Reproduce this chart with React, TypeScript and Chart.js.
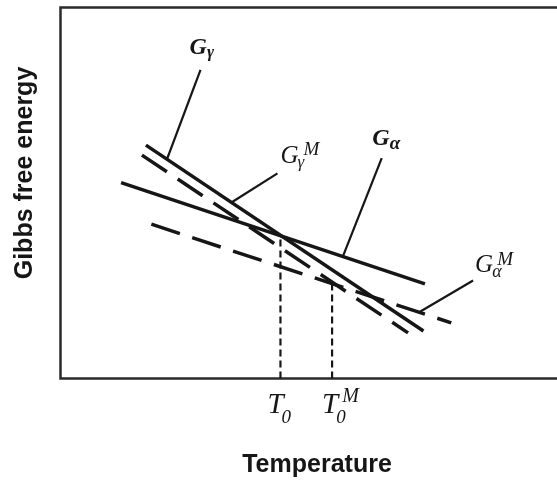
import React, { useEffect, useRef } from "react";
import { Chart, registerables } from "chart.js";

Chart.register(...registerables);

// axis ranges (arbitrary units)
const X_MIN = 0;
const X_MAX = 100;
const Y_MIN = 0;
const Y_MAX = 100;

// Gibbs free energy curves: temperature (x) and energy (y) endpoints
const gammaT = [17.2, 73.1];
const gammaG = [62.9, 12.8];
const gammaMT = [16.4, 70.0];
const gammaMG = [60.2, 12.3];
const alphaT = [12.2, 73.4];
const alphaG = [52.8, 25.5];
const alphaMT = [18.3, 78.7];
const alphaMG = [41.6, 15.0];

// equilibrium temperatures and the energies where the curves cross
const T0 = 44.3;
const T0_G = 38.5;
const T0M = 54.7;
const T0M_G = 25.8;

// leader lines from labels to curves
const leaderGammaT = [28.2, 21.5];
const leaderGammaG = [83.2, 59.3];
const leaderGammaMT = [43.7, 34.5];
const leaderGammaMG = [55.3, 47.5];
const leaderAlphaT = [64.7, 56.9];
const leaderAlphaG = [59.4, 33.0];
const leaderAlphaMT = [83.1, 72.4];
const leaderAlphaMG = [26.4, 18.0];

// label anchors [x, y]
const labelGammaPos = [26.0, 87.6];
const labelGammaMPos = [44.3, 58.1];
const labelAlphaPos = [62.8, 62.9];
const labelAlphaMPos = [83.5, 28.7];

const X_TITLE = "Temperature";
const Y_TITLE = "Gibbs free energy";

const INK = "#161616";
const SERIF = '"Liberation Serif", "DejaVu Serif", serif';
const SANS = '"Liberation Sans", Arial, sans-serif';

const pts = (xs: number[], ys: number[]) => xs.map((x, i) => ({ x, y: ys[i] }));

function composite(
  ctx: CanvasRenderingContext2D,
  x: number,
  y: number,
  main: string,
  mainFont: string,
  sub?: { t: string; font: string; dx: number; dy: number },
  sup?: { t: string; font: string; dx: number; dy: number }
) {
  ctx.textAlign = "left";
  ctx.textBaseline = "alphabetic";
  ctx.font = mainFont;
  ctx.fillText(main, x, y);
  const w = ctx.measureText(main).width;
  if (sub) {
    ctx.font = sub.font;
    ctx.fillText(sub.t, x + w + sub.dx, y + sub.dy);
  }
  if (sup) {
    ctx.font = sup.font;
    ctx.fillText(sup.t, x + w + sup.dx, y + sup.dy);
  }
}

const decorPlugin = {
  id: "decor",
  beforeDatasetsDraw(chart: any) {
    const { ctx, chartArea } = chart;
    ctx.save();
    ctx.strokeStyle = "#2a2a2a";
    ctx.lineWidth = 2.5;
    ctx.beginPath();
    ctx.moveTo(chart.width + 2, chartArea.top);
    ctx.lineTo(chartArea.left, chartArea.top);
    ctx.lineTo(chartArea.left, chartArea.bottom);
    ctx.lineTo(chart.width + 2, chartArea.bottom);
    ctx.stroke();
    ctx.restore();
  },
  afterDraw(chart: any) {
    const { ctx } = chart;
    const xs = chart.scales.x;
    const ys = chart.scales.y;
    const px = (v: number) => xs.getPixelForValue(v);
    const py = (v: number) => ys.getPixelForValue(v);
    ctx.save();
    ctx.fillStyle = INK;

    // axis titles
    ctx.font = `bold 25px ${SANS}`;
    ctx.textAlign = "center";
    ctx.textBaseline = "alphabetic";
    ctx.fillText(X_TITLE, 317, 472);
    ctx.save();
    ctx.translate(32, 173);
    ctx.rotate(-Math.PI / 2);
    ctx.fillText(Y_TITLE, 0, 0);
    ctx.restore();

    // curve labels
    composite(ctx, px(labelGammaPos[0]), py(labelGammaPos[1]), "G", `italic bold 24px ${SERIF}`,
      { t: "γ", font: `italic bold 17px ${SERIF}`, dx: 0, dy: 3 });
    composite(ctx, px(labelAlphaPos[0]), py(labelAlphaPos[1]), "G", `italic bold 24px ${SERIF}`,
      { t: "α", font: `italic bold 19px ${SERIF}`, dx: 0, dy: 4 });
    composite(ctx, px(labelGammaMPos[0]), py(labelGammaMPos[1]), "G", `italic 25px ${SERIF}`,
      { t: "γ", font: `italic 17px ${SERIF}`, dx: -1, dy: 4 },
      { t: "M", font: `italic 19px ${SERIF}`, dx: 5, dy: -8 });
    composite(ctx, px(labelAlphaMPos[0]), py(labelAlphaMPos[1]), "G", `italic 25px ${SERIF}`,
      { t: "α", font: `italic 18px ${SERIF}`, dx: -1, dy: 5 },
      { t: "M", font: `italic 19px ${SERIF}`, dx: 4, dy: -7 });

    // temperature labels below the axis
    const base = ys.bottom + 34.5;
    composite(ctx, px(T0) - 13, base, "T", `italic 29px ${SERIF}`,
      { t: "0", font: `italic 19px ${SERIF}`, dx: -2, dy: 10 });
    composite(ctx, px(T0M) - 10, base, "T", `italic 29px ${SERIF}`,
      { t: "0", font: `italic 19px ${SERIF}`, dx: -2, dy: 10 },
      { t: "M", font: `italic 20px ${SERIF}`, dx: 4, dy: -11 });

    ctx.restore();
  },
};

export default function App() {
  const ref = useRef<HTMLCanvasElement | null>(null);

  useEffect(() => {
    document.body.style.margin = "0";
    const canvas = ref.current;
    if (!canvas) return;

    const solid = (data: any[]) => ({
      data,
      showLine: true,
      borderColor: INK,
      borderWidth: 3.5,
      pointRadius: 0,
      fill: false,
      borderCapStyle: "butt",
    });
    const dashed = (data: any[]) => ({ ...solid(data), borderDash: [30, 13] });
    const vdash = (data: any[]) => ({ ...solid(data), borderWidth: 2.2, borderDash: [7, 4] });
    const leader = (data: any[]) => ({ ...solid(data), borderWidth: 2.2 });

    const chart = new Chart(canvas, {
      type: "scatter",
      data: {
        datasets: [
          { label: "Gγ", ...solid(pts(gammaT, gammaG)) },
          { label: "GγM", ...dashed(pts(gammaMT, gammaMG)) },
          { label: "Gα", ...solid(pts(alphaT, alphaG)) },
          { label: "GαM", ...dashed(pts(alphaMT, alphaMG)) },
          { label: "T0", ...vdash(pts([T0, T0], [Y_MIN, T0_G])) },
          { label: "T0M", ...vdash(pts([T0M, T0M], [Y_MIN, T0M_G])) },
          { label: "leader Gγ", ...leader(pts(leaderGammaT, leaderGammaG)) },
          { label: "leader GγM", ...leader(pts(leaderGammaMT, leaderGammaMG)) },
          { label: "leader Gα", ...leader(pts(leaderAlphaT, leaderAlphaG)) },
          { label: "leader GαM", ...leader(pts(leaderAlphaMT, leaderAlphaMG)) },
        ] as any,
      },
      options: {
        animation: false,
        responsive: false,
        layout: { padding: { left: 60.5, top: 7.5, right: 0, bottom: 101.5 } },
        plugins: { legend: { display: false }, tooltip: { enabled: false } },
        scales: {
          x: { type: "linear", min: X_MIN, max: X_MAX, display: false },
          y: { type: "linear", min: Y_MIN, max: Y_MAX, display: false },
        },
      },
      plugins: [decorPlugin],
    });
    return () => chart.destroy();
  }, []);

  return <canvas ref={ref} width={557} height={480} style={{ display: "block" }} />;
}
